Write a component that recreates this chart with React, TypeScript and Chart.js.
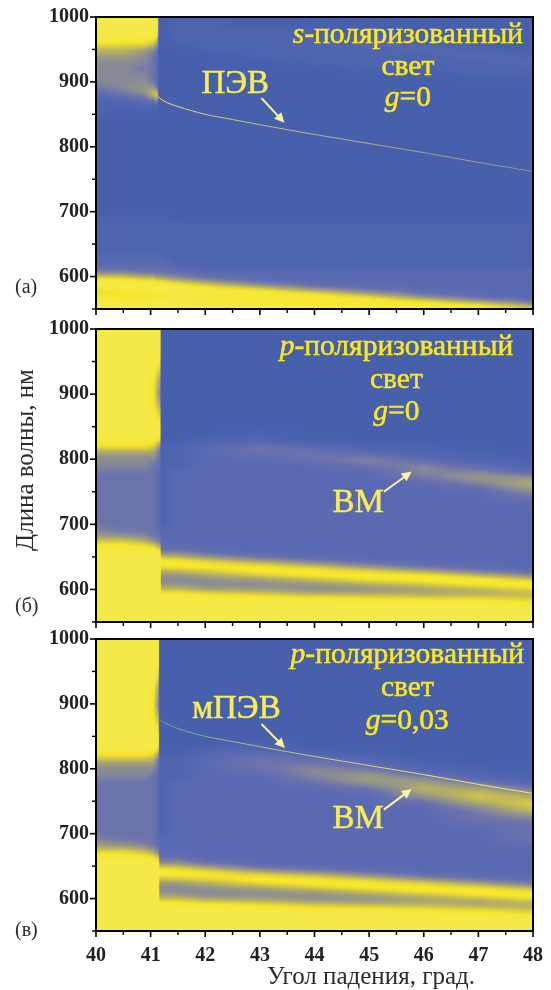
import React, { useEffect, useRef } from "react";
import { Chart, registerables } from "chart.js";

Chart.register(...registerables);

const FONT = "'Liberation Serif', serif";

const WAVELENGTHS = [
  1000, 990, 980, 970, 960, 950, 940, 930, 920, 910, 900, 890, 880, 870, 860, 850, 840,
  830, 820, 810, 800, 790, 780, 770, 760, 750, 740, 730, 720, 710, 700, 690, 680, 670,
  660, 655, 650, 645, 640, 635, 630, 625, 620, 615, 610, 605, 600, 595, 590, 585, 580,
  575, 570, 565, 560, 555, 550,
];

const ANGLES_A = [40, 40.5, 40.9, 41.05, 41.12, 41.16, 41.5, 42, 43, 44, 45, 46, 47, 48];
const ANGLES_B = [40, 40.5, 40.9, 41.05, 41.17, 41.2, 41.5, 42, 43, 44, 45, 46, 47, 48];
const ANGLES_C = [40, 40.5, 40.9, 41.05, 41.14, 41.17, 41.5, 42, 43, 44, 45, 46, 47, 48];

const LEVELS_A = [
  "999990 00000000", "999990 11000000", "999990 11110000", "999980 11111000", "888750 11112100",
  "665430 01111210", "554320 00111121", "444320 00011112", "443320 00001111", "444320 00000011",
  "444320 00000000", "345530 00000000", "234790 00000000", "112230 00000000", "111110 00000000",
  "100000 00000000", "000000 00000000",
  "000000 00000000", "000000 00000000", "000000 00000000", "000000 00000000", "000000 00000000",
  "000000 00000000", "000000 00000000", "000000 00000000", "000000 00000000", "000000 00000000",
  "000000 00000000", "000000 00000000", "000000 00000000", "000000 00000000", "111111 00000000",
  "111111 11111111", "111111 11111111",
  "111111 11111111", "111111 11111111", "111111 11111111", "111111 11111111", "111111 11111111",
  "111111 11111111", "222222 11111111", "222222 11111111", "222222 11111111", "222222 21111111",
  "333333 22222222", "443333 32222222", "765544 33222222", "998877 53222222", "999999 86322222",
  "999999 98532222", "899999 99843222", "688999 99984322", "977777 99997322", "999999 97799632",
  "999999 99979963", "999999 99998996", "999999 99999899",
];

const LEVELS_B = [
  "999990 00000000", "999990 00000000", "999990 00000000", "999990 00000000", "999990 00000000",
  "999980 00000000", "999970 00000000", "999960 00000000", "999850 00000000", "999850 00000000",
  "999840 00000000", "999850 00000000", "999860 00000000", "999970 00000000", "999980 00000000",
  "999990 00000000", "999990 00100000",
  "999980 01100000", "888741 12321100", "555531 12332110", "444431 12234211", "444321 12223421",
  "333321 22222442", "333321 22222355", "333321 22222236", "333321 22222224", "333321 22222223",
  "333321 22222222", "333321 22222222", "333321 22222222", "333321 22222222", "433322 22222222",
  "554332 22222222", "887642 22222222",
  "999983 32222222", "999994 43222222", "999996 64322222", "999999 87432222", "999999 98743222",
  "999998 89874322", "999996 77987432", "999995 56898743", "999994 45689974", "999994 44568997",
  "999994 44456799", "999995 54445679", "999996 65544567", "999998 87655556", "999999 99877666",
  "999999 99998887", "999999 99999998", "999999 99999999", "999999 99999999", "999999 99999999",
  "999999 99999999", "999999 99999999", "999999 99999999",
];

const LEVELS_C = [
  "999990 00000000", "999990 00000000", "999990 00000000", "999990 00000000", "999990 00000000",
  "999980 00000000", "999970 00000000", "999960 00000000", "999850 00000000", "999850 00000000",
  "999840 00000000", "999850 00000000", "999860 00000000", "999970 00000000", "999980 00000000",
  "999990 00000000", "999990 00100000",
  "999980 01100000", "888741 12321000", "555531 12332100", "444431 12343110", "444321 12245311",
  "333321 22235531", "333321 22223653", "333321 22222575", "333321 22222367", "333321 22222247",
  "333321 22222235", "333321 22222233", "333321 22222223", "333321 22222223", "433322 22222223",
  "554332 22222222", "887642 22222222",
  "999983 32222222", "999994 43222222", "999996 64222222", "999999 87432222", "999999 98643222",
  "999998 89874322", "999996 77987432", "999995 56898743", "999994 45689874", "999994 44568987",
  "999994 44456898", "999995 54445689", "999996 65544568", "999998 87655556", "999999 99876655",
  "999999 99988776", "999999 99999987", "999999 99999998", "999999 99999999", "999999 99999999",
  "999999 99999999", "999999 99999999", "999999 99999999",
];

const LINE_ANGLES_A = [41.14, 41.25, 41.5, 42, 42.5, 43, 44, 45, 46, 47, 48];
const LINE_NM_A = [877, 870, 862, 850, 842, 834, 819, 805, 791, 776, 762];
const LINE_ANGLES_C = [41.17, 41.25, 41.5, 42, 42.5, 43, 44, 45, 46, 47, 48];
const LINE_NM_C = [876, 871, 862, 850, 842, 834, 819, 805, 791, 776, 762];

const PALETTE = [
  [70, 96, 172], [77, 100, 175], [90, 106, 178], [108, 115, 172], [135, 138, 150],
  [160, 159, 122], [190, 182, 90], [220, 207, 62], [246, 230, 42], [245, 233, 71],
];

type Run = { t: string; i?: boolean };
type Label = { runs: Run[]; angle: number; nm: number; size: number };
type Arrow = { from: [number, number]; to: [number, number] };

const HEADING_A: Label[] = [
  { runs: [{ t: "s", i: true }, { t: "-поляризованный" }], angle: 45.71, nm: 960, size: 29.5 },
  { runs: [{ t: "свет" }], angle: 45.71, nm: 910, size: 29.5 },
  { runs: [{ t: "g", i: true }, { t: "=0" }], angle: 45.71, nm: 863, size: 29.5 },
  { runs: [{ t: "ПЭВ" }], angle: 42.55, nm: 883, size: 33 },
];
const HEADING_B: Label[] = [
  { runs: [{ t: "p", i: true }, { t: "-поляризованный" }], angle: 45.5, nm: 960, size: 29.5 },
  { runs: [{ t: "свет" }], angle: 45.5, nm: 909, size: 29.5 },
  { runs: [{ t: "g", i: true }, { t: "=0" }], angle: 45.5, nm: 860, size: 29.5 },
  { runs: [{ t: "ВМ" }], angle: 44.8, nm: 719, size: 33 },
];
const HEADING_C: Label[] = [
  { runs: [{ t: "p", i: true }, { t: "-поляризованный" }], angle: 45.7, nm: 963, size: 29.5 },
  { runs: [{ t: "свет" }], angle: 45.7, nm: 912, size: 29.5 },
  { runs: [{ t: "g", i: true }, { t: "=0,03" }], angle: 45.7, nm: 862, size: 29.5 },
  { runs: [{ t: "мПЭВ" }], angle: 42.57, nm: 878, size: 33 },
  { runs: [{ t: "ВМ" }], angle: 44.8, nm: 708, size: 33 },
];
const ARROWS_A: Arrow[] = [{ from: [43.03, 875], to: [43.45, 837] }];
const ARROWS_B: Arrow[] = [{ from: [45.27, 750], to: [45.78, 781] }];
const ARROWS_C: Arrow[] = [
  { from: [43.03, 869], to: [43.46, 832] },
  { from: [45.27, 737], to: [45.78, 769] },
];

const X_TITLE = "Угол падения, град.";
const Y_TITLE = "Длина волны, нм";

const PANELS = [
  {
    name: "(а)", angles: ANGLES_A, levels: LEVELS_A, lineX: LINE_ANGLES_A, lineY: LINE_NM_A,
    lineAlpha: [1, 0.4], labels: HEADING_A, arrows: ARROWS_A,
    top: 0, height: 320, padTop: 17, xHeight: 11, tagNm: 575, showX: false, yTitle: false,
  },
  {
    name: "(б)", angles: ANGLES_B, levels: LEVELS_B, lineX: [], lineY: [],
    lineAlpha: [1, 1], labels: HEADING_B, arrows: ARROWS_B,
    top: 318, height: 312, padTop: 11, xHeight: 8, tagNm: 565, showX: false, yTitle: true,
  },
  {
    name: "(в)", angles: ANGLES_C, levels: LEVELS_C, lineX: LINE_ANGLES_C, lineY: LINE_NM_C,
    lineAlpha: [0.3, 1], labels: HEADING_C, arrows: ARROWS_C,
    top: 628, height: 362, padTop: 11, xHeight: 59, tagNm: 542, showX: true, yTitle: false,
  },
];

function colorAt(v: number): number[] {
  const i = Math.max(0, Math.min(8, Math.floor(v)));
  const f = Math.max(0, Math.min(1, v - i));
  const a = PALETTE[i];
  const b = PALETTE[i + 1];
  return [a[0] + (b[0] - a[0]) * f, a[1] + (b[1] - a[1]) * f, a[2] + (b[2] - a[2]) * f];
}

const heatPlugin = {
  id: "heat",
  beforeDatasetsDraw(chart: any) {
    const { ctx, chartArea: area, scales } = chart;
    const ds = chart.data.datasets[0];
    const cols: number[] = ds.angles;
    const rows: number[] = ds.wavelengths;
    const cells = ds.data;
    const w = Math.round(area.right - area.left);
    const h = Math.round(area.bottom - area.top);
    const off = document.createElement("canvas");
    off.width = w;
    off.height = h;
    const oc = off.getContext("2d")!;
    const img = oc.createImageData(w, h);
    const locate = (list: number[], v: number) => {
      let i = 0;
      const asc = list[1] > list[0];
      while (i < list.length - 2 && (asc ? list[i + 1] < v : list[i + 1] > v)) i++;
      const f = (v - list[i]) / (list[i + 1] - list[i]);
      return [i, Math.max(0, Math.min(1, f))];
    };
    const xs = Array.from({ length: w }, (_, p) => locate(cols, scales.x.getValueForPixel(area.left + p + 0.5)));
    const ys = Array.from({ length: h }, (_, p) => locate(rows, scales.y.getValueForPixel(area.top + p + 0.5)));
    const n = cols.length;
    let field = new Float32Array(w * h);
    for (let py = 0; py < h; py++) {
      const [r, fr] = ys[py];
      for (let px = 0; px < w; px++) {
        const [c, fc] = xs[px];
        const v00 = cells[r * n + c].v;
        const v01 = cells[r * n + c + 1].v;
        const v10 = cells[(r + 1) * n + c].v;
        const v11 = cells[(r + 1) * n + c + 1].v;
        field[py * w + px] = (v00 * (1 - fc) + v01 * fc) * (1 - fr) + (v10 * (1 - fc) + v11 * fc) * fr;
      }
    }
    // soften the shading along the wavelength axis only, so the sharp edge near 41 deg stays sharp
    const radius = 3;
    for (let pass = 0; pass < 2; pass++) {
      const next = new Float32Array(w * h);
      for (let px = 0; px < w; px++) {
        for (let py = 0; py < h; py++) {
          let sum = 0;
          let count = 0;
          for (let k = -radius; k <= radius; k++) {
            const q = py + k;
            if (q >= 0 && q < h) {
              sum += field[q * w + px];
              count++;
            }
          }
          next[py * w + px] = sum / count;
        }
      }
      field = next;
    }
    let o = 0;
    for (let i = 0; i < w * h; i++) {
      const rgb = colorAt(field[i]);
      img.data[o++] = rgb[0];
      img.data[o++] = rgb[1];
      img.data[o++] = rgb[2];
      img.data[o++] = 255;
    }
    oc.putImageData(img, 0, 0);
    ctx.drawImage(off, area.left, area.top);
  },
};

function drawRuns(ctx: CanvasRenderingContext2D, runs: Run[], cx: number, y: number, size: number) {
  const fontOf = (r: Run) => `${r.i ? "italic " : ""}${size}px ${FONT}`;
  let total = 0;
  for (const r of runs) {
    ctx.font = fontOf(r);
    total += ctx.measureText(r.t).width;
  }
  let x = cx - total / 2;
  for (const r of runs) {
    ctx.font = fontOf(r);
    ctx.fillText(r.t, x, y);
    ctx.strokeText(r.t, x, y);
    x += ctx.measureText(r.t).width;
  }
}

function makeOverlay(panel: (typeof PANELS)[number]) {
  return {
    id: "overlay",
    afterDatasetsDraw(chart: any) {
      const { ctx, chartArea: a, scales } = chart;
      const { x, y } = scales;
      ctx.save();
      ctx.strokeStyle = "#000";
      ctx.lineWidth = 2;
      ctx.strokeRect(a.left, a.top, a.right - a.left, a.bottom - a.top);
      for (const t of x.ticks) {
        const px = x.getPixelForValue(t.value);
        const major = Number.isInteger(t.value);
        ctx.lineWidth = major ? 1.6 : 1.4;
        ctx.beginPath();
        ctx.moveTo(px, a.bottom);
        ctx.lineTo(px, a.bottom + (major ? 6 : 4));
        ctx.stroke();
      }
      for (const t of y.ticks) {
        const py = y.getPixelForValue(t.value);
        const major = t.value % 100 === 0;
        ctx.lineWidth = major ? 1.6 : 1.4;
        ctx.beginPath();
        ctx.moveTo(a.left, py);
        ctx.lineTo(a.left - (major ? 6 : 4), py);
        ctx.stroke();
      }
      ctx.textBaseline = "alphabetic";
      ctx.textAlign = "left";
      ctx.lineWidth = 0.5;
      for (const l of panel.labels) {
        const big = l.size >= 33;
        ctx.fillStyle = big ? "#f9ec58" : "#fbe81f";
        ctx.strokeStyle = ctx.fillStyle;
        drawRuns(ctx, l.runs, x.getPixelForValue(l.angle), y.getPixelForValue(l.nm), l.size);
      }
      ctx.strokeStyle = "#fbf3a0";
      ctx.fillStyle = "#fbf3a0";
      for (const ar of panel.arrows) {
        const x0 = x.getPixelForValue(ar.from[0]);
        const y0 = y.getPixelForValue(ar.from[1]);
        const x1 = x.getPixelForValue(ar.to[0]);
        const y1 = y.getPixelForValue(ar.to[1]);
        const ang = Math.atan2(y1 - y0, x1 - x0);
        const head = 11;
        ctx.lineWidth = 2;
        ctx.beginPath();
        ctx.moveTo(x0, y0);
        ctx.lineTo(x1 - Math.cos(ang) * head * 0.8, y1 - Math.sin(ang) * head * 0.8);
        ctx.stroke();
        ctx.beginPath();
        ctx.moveTo(x1, y1);
        ctx.lineTo(x1 - Math.cos(ang - 0.45) * head, y1 - Math.sin(ang - 0.45) * head);
        ctx.lineTo(x1 - Math.cos(ang + 0.45) * head, y1 - Math.sin(ang + 0.45) * head);
        ctx.closePath();
        ctx.fill();
      }
      ctx.fillStyle = "#2b2b2b";
      ctx.font = `20px ${FONT}`;
      ctx.fillText(panel.name, 15, y.getPixelForValue(panel.tagNm));
      if (panel.showX) {
        ctx.font = `25px ${FONT}`;
        ctx.textAlign = "center";
        ctx.fillText(X_TITLE, 371, a.bottom + 53);
      }
      if (panel.yTitle) {
        ctx.translate(33, 460 - 318);
        ctx.rotate(-Math.PI / 2);
        ctx.font = `25px ${FONT}`;
        ctx.textAlign = "center";
        ctx.fillText(Y_TITLE, 0, 0);
      }
      ctx.restore();
    },
  };
}

function buildChart(canvas: HTMLCanvasElement, panel: (typeof PANELS)[number]) {
  const grid = panel.levels.map((s) => s.replace(" ", "").split("").map(Number));
  const cells: { x: number; y: number; v: number }[] = [];
  WAVELENGTHS.forEach((nm, r) => {
    panel.angles.forEach((ang, c) => cells.push({ x: ang, y: nm, v: grid[r][c] }));
  });
  const line = panel.lineX.map((ang, i) => ({ x: ang, y: panel.lineY[i] }));
  const [a0, a1] = panel.lineAlpha;
  const tickFont = { family: FONT, size: 20, weight: "bold" as const };
  return new Chart(canvas, {
    type: "scatter",
    data: {
      datasets: [
        {
          label: "Отражение",
          data: cells,
          angles: panel.angles,
          wavelengths: WAVELENGTHS,
          pointRadius: 0,
          pointHoverRadius: 0,
          showLine: false,
        } as any,
        {
          label: panel.name === "(а)" ? "ПЭВ" : "мПЭВ",
          data: line,
          showLine: true,
          pointRadius: 0,
          borderWidth: 1,
          borderColor: "#f5e35a",
          tension: 0.3,
          segment: {
            borderColor: (c: any) => {
              const f = c.p0DataIndex / Math.max(1, line.length - 2);
              return `rgba(248,232,100,${a0 + (a1 - a0) * f})`;
            },
          },
        } as any,
      ],
    },
    options: {
      animation: false,
      responsive: false,
      devicePixelRatio: 1,
      events: [],
      layout: { padding: { top: panel.padTop, right: 18, left: 0, bottom: 0 } },
      plugins: { legend: { display: false }, tooltip: { enabled: false } },
      scales: {
        x: {
          type: "linear",
          min: 40,
          max: 48,
          grid: { display: false, drawTicks: false },
          border: { display: false },
          afterFit: (s: any) => {
            s.height = panel.xHeight;
            s.paddingLeft = 0;
            s.paddingRight = 0;
          },
          ticks: {
            display: panel.showX,
            stepSize: 0.5,
            autoSkip: false,
            maxRotation: 0,
            padding: 13,
            color: "#222",
            font: tickFont,
            callback: (v: any) => (Number.isInteger(v) ? String(v) : ""),
          },
        },
        y: {
          type: "linear",
          min: 550,
          max: 1000,
          grid: { display: false, drawTicks: false },
          border: { display: false },
          afterFit: (s: any) => {
            s.width = 96;
            s.paddingTop = 0;
            s.paddingBottom = 0;
          },
          ticks: {
            stepSize: 50,
            autoSkip: false,
            padding: 7,
            color: "#222",
            font: tickFont,
            callback: (v: any) => (v % 100 === 0 ? String(v) : ""),
          },
        },
      },
    } as any,
    plugins: [heatPlugin, makeOverlay(panel)],
  });
}

export default function App() {
  const refs = useRef<(HTMLCanvasElement | null)[]>([]);
  useEffect(() => {
    const charts = PANELS.map((p, i) => buildChart(refs.current[i]!, p));
    return () => charts.forEach((c) => c.destroy());
  }, []);
  return (
    <div style={{ position: "absolute", left: 0, top: 0, width: 551, height: 990, background: "#fff", overflow: "hidden" }}>
      {PANELS.map((p, i) => (
        <canvas
          key={p.name}
          ref={(el) => { refs.current[i] = el; }}
          width={551}
          height={p.height}
          style={{ position: "absolute", left: 0, top: p.top, width: 551, height: p.height, display: "block" }}
        />
      ))}
    </div>
  );
}
